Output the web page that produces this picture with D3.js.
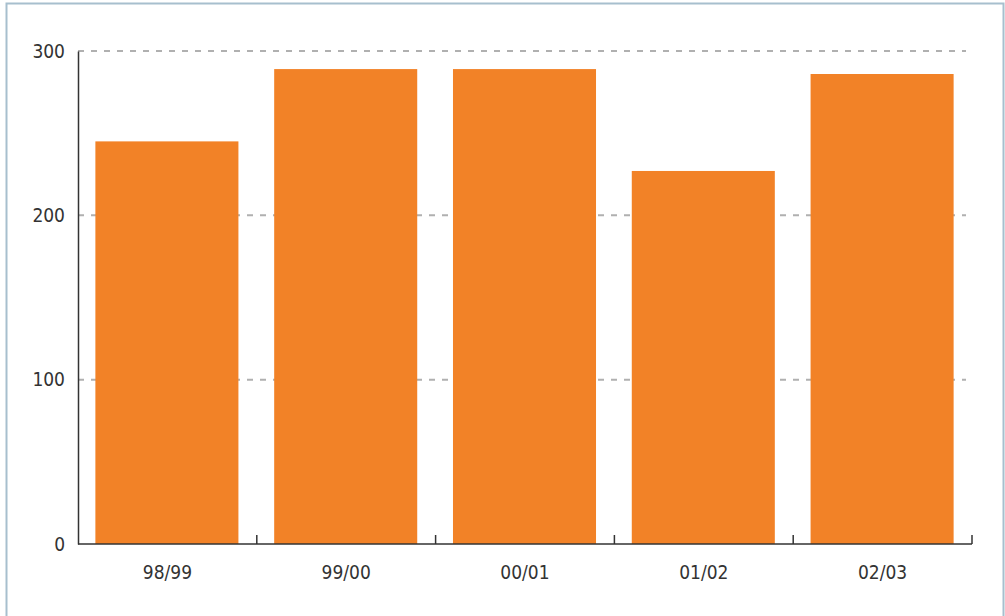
<!DOCTYPE html>
<html>
<head>
<meta charset="utf-8">
<script src="https://cdn.jsdelivr.net/npm/d3@7"></script>
<style>
  html, body { margin: 0; padding: 0; background: #fff; }
  svg { display: block; }
  text { font-family: "Liberation Sans Narrow", "DejaVu Sans Condensed", sans-serif; fill: #333; }
</style>
</head>
<body>
<div id="chart"></div>
<script>
(function () {
  "use strict";

  var seasons = ["98/99", "99/00", "00/01", "01/02", "02/03"];
  var values = [245, 289, 289, 227, 286];
  var yTicks = [0, 100, 200, 300];

  var width = 1005, height = 616;
  var left = 78, right = 972, top = 51, bottom = 544;

  var svg = d3.select("#chart").append("svg")
    .attr("width", width)
    .attr("height", height);

  // frame round the whole chart, its bottom edge falls outside the window
  svg.append("rect")
    .attr("x", 6.5).attr("y", 3.5)
    .attr("width", 997).attr("height", 640)
    .attr("fill", "none")
    .attr("stroke", "#a7bfce")
    .attr("stroke-width", 2);

  var x = d3.scaleBand()
    .domain(seasons)
    .range([left, right])
    .paddingInner(0.2)
    .paddingOuter(0.1);

  var y = d3.scaleLinear()
    .domain([0, 300])
    .range([bottom, top]);

  // dashed grid lines
  svg.append("g")
    .selectAll("line")
    .data(yTicks.filter(function (d) { return d > 0; }))
    .join("line")
    .attr("x1", left).attr("x2", 966)
    .attr("y1", function (d) { return y(d); })
    .attr("y2", function (d) { return y(d); })
    .attr("stroke", "#b0b0b0")
    .attr("stroke-width", 2)
    .attr("stroke-dasharray", "6,7");

  svg.append("g")
    .selectAll("rect")
    .data(values)
    .join("rect")
    .attr("x", function (d, i) { return x(seasons[i]) - 0.5; })
    .attr("width", x.bandwidth())
    .attr("y", function (d) { return y(d); })
    .attr("height", function (d) { return bottom - y(d); })
    .attr("fill", "#f28227");

  // y axis
  var yAxis = svg.append("g")
    .attr("transform", "translate(" + left + ",0)")
    .call(d3.axisLeft(y).tickValues(yTicks).tickSize(0).tickPadding(13));
  yAxis.select(".domain").attr("stroke", "#333").attr("stroke-width", 1.5);
  yAxis.selectAll("text").attr("font-size", 19).attr("fill", "#333")
    .style("font-family", "'Liberation Sans Narrow', 'DejaVu Sans Condensed', sans-serif");

  // x axis with boundary ticks pointing up
  var xg = svg.append("g");
  xg.append("line")
    .attr("x1", left).attr("x2", right)
    .attr("y1", bottom).attr("y2", bottom)
    .attr("stroke", "#333").attr("stroke-width", 1.5);
  xg.selectAll("line.tick")
    .data(seasons.slice(1).concat(["end"]))
    .join("line")
    .attr("class", "tick")
    .attr("x1", function (d, i) { return left + x.step() * (i + 1); })
    .attr("x2", function (d, i) { return left + x.step() * (i + 1); })
    .attr("y1", bottom).attr("y2", bottom - 9)
    .attr("stroke", "#333").attr("stroke-width", 1.5);
  xg.selectAll("text")
    .data(seasons)
    .join("text")
    .attr("x", function (d) { return x(d) + x.bandwidth() / 2; })
    .attr("y", 579)
    .attr("text-anchor", "middle")
    .attr("font-size", 19)
    .text(function (d) { return d; });
})();
</script>
</body>
</html>
